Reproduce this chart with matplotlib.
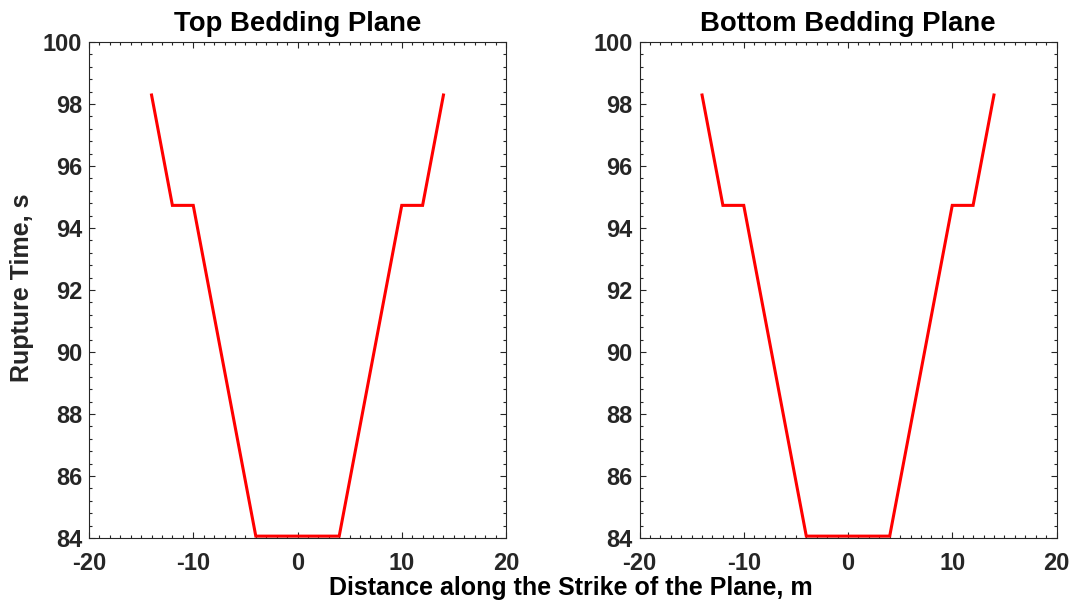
import matplotlib
matplotlib.use("Agg")
import matplotlib.pyplot as plt
from matplotlib.ticker import MultipleLocator

# rupture front along strike for both bedding planes
distance = [-14, -12, -10, -4, 4, 10, 12, 14]
top_time = [98.29, 94.73, 94.73, 84.06, 84.06, 94.73, 94.73, 98.29]
bottom_time = [98.29, 94.73, 94.73, 84.06, 84.06, 94.73, 94.73, 98.29]
titles = ["Top Bedding Plane", "Bottom Bedding Plane"]

plt.rcParams['font.family'] = ['Liberation Sans', 'DejaVu Sans']
plt.rcParams['font.weight'] = 'bold'
plt.rcParams['axes.unicode_minus'] = False

fig = plt.figure(figsize=(10.73, 6), dpi=100)
W, H = 1073, 600
ax1 = fig.add_axes([89 / W, 1 - 538 / H, 417 / W, 496 / H])
ax2 = fig.add_axes([639.5 / W, 1 - 538 / H, 417 / W, 496 / H])

for ax, series, title in zip([ax1, ax2], [top_time, bottom_time], titles):
    ax.plot(distance, series, color='#ff0000', lw=2.2, solid_joinstyle='miter')
    ax.set_xlim(-20, 20)
    ax.set_ylim(84, 100)
    ax.xaxis.set_major_locator(MultipleLocator(10))
    ax.xaxis.set_minor_locator(MultipleLocator(1))
    ax.yaxis.set_major_locator(MultipleLocator(2))
    ax.yaxis.set_minor_locator(MultipleLocator(0.4))
    ax.tick_params(which='both', direction='in', top=True, right=True,
                   colors='#262626', labelsize=17, width=0.8)
    ax.tick_params(which='major', length=4)
    ax.tick_params(which='minor', length=2)
    ax.tick_params(axis='x', which='major', pad=10)
    ax.tick_params(axis='y', which='major', pad=5)
    for lbl in ax.get_xticklabels() + ax.get_yticklabels():
        lbl.set_fontweight('bold')
    for sp in ax.spines.values():
        sp.set_color('#262626')
        sp.set_linewidth(0.8)
    ax.set_title(title, fontsize=19.8, fontweight='bold', pad=8)

fig.text(22 / W, 1 - 288 / H, "Rupture Time, s", rotation=90,
         ha='center', va='center', fontsize=18, fontweight='bold', color='#262626')
fig.text(571 / W, 1 - 595 / H, "Distance along the Strike of the Plane, m",
         ha='center', va='baseline', fontsize=18, fontweight='bold')

fig.savefig("out.png", dpi=100)
